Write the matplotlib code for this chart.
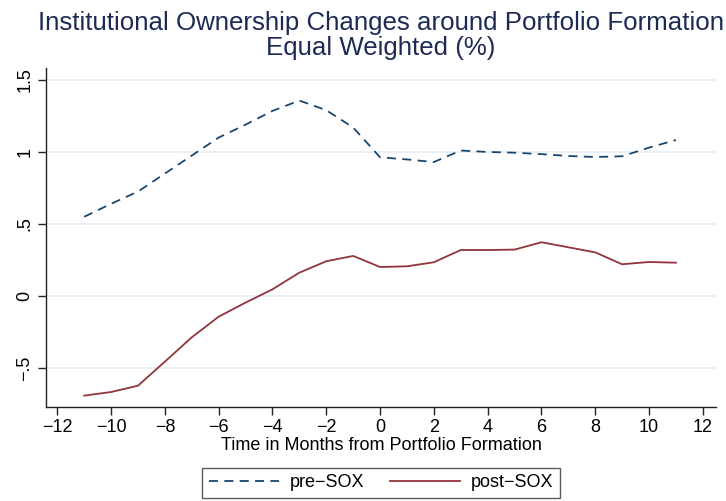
import numpy as np
import matplotlib
matplotlib.use("Agg")
import matplotlib.pyplot as plt

# months relative to portfolio formation
months = list(range(-11, 12))

pre_sox = [0.55, 0.64, 0.725, 0.85, 0.975, 1.10, 1.19, 1.285, 1.357, 1.29, 1.17,
           0.963, 0.948, 0.93, 1.01, 1.0, 0.995, 0.985, 0.972, 0.965, 0.97, 1.03, 1.083]
post_sox = [-0.692, -0.667, -0.623, -0.456, -0.287, -0.144, -0.046, 0.046, 0.162, 0.241, 0.278,
            0.201, 0.206, 0.234, 0.319, 0.319, 0.322, 0.373, 0.338, 0.303, 0.22, 0.236, 0.231]

xticks = list(range(-12, 13, 2))
yticks = [-0.5, 0, 0.5, 1, 1.5]
ylabels = ["\u2212.5", "0", ".5", "1", "1.5"]

plt.rcParams['font.family'] = ['Liberation Sans', 'DejaVu Sans']
plt.rcParams['axes.unicode_minus'] = True

fig = plt.figure(figsize=(7.26, 5.01), dpi=100)
ax = fig.add_axes([46/726, 1 - 407/501, 670/726, 339/501])

navy = '#1a476f'
maroon = '#90353b'

ax.plot(months, pre_sox, color=navy, lw=1.3, dashes=(5, 3.5), label='pre\u2212SOX')
ax.plot(months, post_sox, color=maroon, lw=1.3, label='post\u2212SOX')

ax.set_xlim(-12.42, 12.49)
ax.set_ylim(-0.771, 1.583)
ax.set_xticks(xticks)
ax.set_xticklabels([str(t).replace('-', '\u2212') for t in xticks])
ax.set_yticks(yticks)
ax.set_yticklabels(ylabels, rotation=90, va='center')

ax.yaxis.grid(True, color='#e6edf2', lw=1.2)
ax.set_axisbelow(True)
for s in ['top', 'right']:
    ax.spines[s].set_visible(False)
for s in ['left', 'bottom']:
    ax.spines[s].set_color('#222222')
    ax.spines[s].set_linewidth(1.0)
ax.tick_params(axis='both', direction='out', length=6, width=1, color='#222222',
               labelsize=13, labelcolor='black', pad=3)

ax.set_xlabel('Time in Months from Portfolio Formation', fontsize=13, labelpad=0)

fig.text(381/726, 1 - 23/501, 'Institutional Ownership Changes around Portfolio Formation',
         ha='center', va='center', fontsize=18.6, color='#1c2a55')
fig.text(381/726, 1 - 47.5/501, 'Equal Weighted (%)',
         ha='center', va='center', fontsize=18.6, color='#1c2a55')

leg = fig.legend(loc='upper center', bbox_to_anchor=(381/726, 1 - 468/501), ncol=2,
                 fontsize=13, frameon=True, fancybox=False, edgecolor='#333333',
                 handlelength=3.9, handletextpad=0.6, columnspacing=1.4,
                 borderpad=0.35, borderaxespad=0)
leg.get_frame().set_linewidth(1.0)

fig.savefig('out.png', dpi=100)
